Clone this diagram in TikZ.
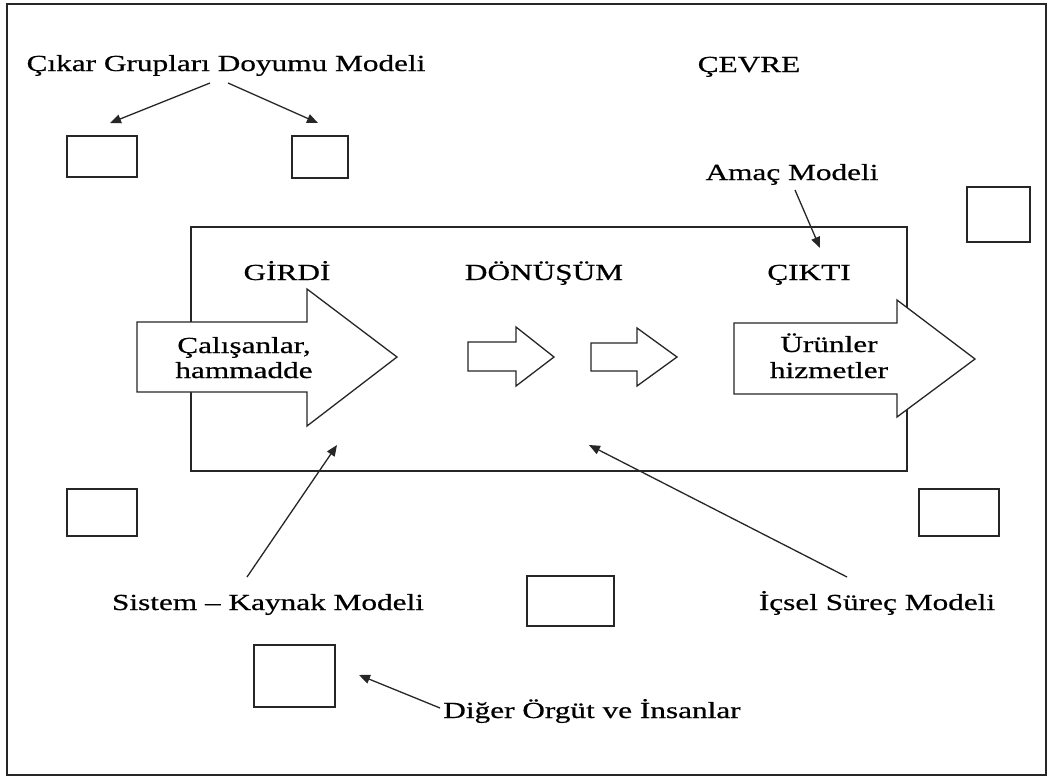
\documentclass[tikz,border=0pt]{standalone}
\usepackage{fontspec}
\setmainfont{Liberation Serif}[FakeStretch=1.36,FakeBold=0.6]
\usetikzlibrary{arrows.meta}
\begin{document}
\begin{tikzpicture}[x=1pt,y=-1pt,
  frame/.style={draw=black!85, line width=1.6pt},
  smallbox/.style={draw=black!85, line width=1.5pt, fill=white},
  blockarrow/.style={draw=black!85, line width=1.3pt, fill=white, line join=miter},
  lbl/.style={inner sep=0pt, anchor=base, font=\fontsize{23}{25}\selectfont},
  conn/.style={draw=black!85, line width=1.3pt, -{Triangle[length=11pt,width=9pt]}}
]
% canvas and outer frame
\useasboundingbox (0,0) rectangle (1060,777);
\fill[white] (0,0) rectangle (1060,777);
\draw[frame] (7,4) rectangle (1046,775);

% organisation (system) rectangle
\draw[frame] (191,227) rectangle (907,471);

% small boxes around the environment
\draw[smallbox] (67,136) rectangle (137,177) coordinate (tl1);
\draw[smallbox] (292,136) rectangle (348,178) coordinate (tl2);
\draw[smallbox] (967,187) rectangle (1030,242) coordinate (tr);
\draw[smallbox] (67,489) rectangle (137,536) coordinate (bl);
\draw[smallbox] (919,489) rectangle (999,536) coordinate (br);
\draw[smallbox] (527,576) rectangle (614,626) coordinate (bc);
\draw[smallbox] (254,645) rectangle (335,707) coordinate (bb);

% block arrows: input, two transformation steps, output
\draw[blockarrow] (137,322) -- (307,322) -- (307,289) -- (397,357) -- (307,426) -- (307,392) -- (137,392) -- cycle;
\draw[blockarrow] (468,342) -- (516,342) -- (516,327) -- (554,357) -- (516,386) -- (516,371) -- (468,371) -- cycle;
\draw[blockarrow] (591,343) -- (637,343) -- (637,328) -- (677,357) -- (637,386) -- (637,371) -- (591,371) -- cycle;
\draw[blockarrow] (734,323) -- (897,323) -- (897,300) -- (975,359) -- (897,417) -- (897,394) -- (734,394) -- cycle;

% headings
\node[lbl] (cevre) at (749,72) {ÇEVRE};
\node[lbl] (girdi) at (287,280) {GİRDİ};
\node[lbl] (donusum) at (544,280) {DÖNÜŞÜM};
\node[lbl] (cikti) at (809,280) {ÇIKTI};

% texts inside the block arrows
\node[lbl] (in1) at (244,353) {Çalışanlar,};
\node[lbl] (in2) at (244,378) {hammadde};
\node[lbl] (out1) at (829,352) {Ürünler};
\node[lbl] (out2) at (829,378) {hizmetler};

% model labels
\node[lbl] (cgd) at (226,71) {Çıkar Grupları Doyumu Modeli};
\node[lbl] (amac) at (792,180) {Amaç Modeli};
\node[lbl] (sistem) at (268,610) {Sistem – Kaynak Modeli};
\node[lbl] (icsel) at (877,610) {İçsel Süreç Modeli};
\node[lbl] (diger) at (592,718) {Diğer Örgüt ve İnsanlar};

% connector end points
\coordinate (cgd-a) at (210,83);
\coordinate (cgd-b) at (228,83);
\coordinate (cgd-ta) at (110,123);
\coordinate (cgd-tb) at (318,123);
\coordinate (amac-s) at (795,190);
\coordinate (amac-t) at (820,248);
\coordinate (sistem-s) at (247,577);
\coordinate (sistem-t) at (337,445);
\coordinate (icsel-s) at (847,577);
\coordinate (icsel-t) at (589,445);
\coordinate (diger-s) at (440,708);
\coordinate (diger-t) at (359,675);

% connectors
\draw[conn] (cgd-a) -- (cgd-ta);
\draw[conn] (cgd-b) -- (cgd-tb);
\draw[conn] (amac-s) -- (amac-t);
\draw[conn] (sistem-s) -- (sistem-t);
\draw[conn] (icsel-s) -- (icsel-t);
\draw[conn] (diger-s) -- (diger-t);
\end{tikzpicture}
\end{document}
